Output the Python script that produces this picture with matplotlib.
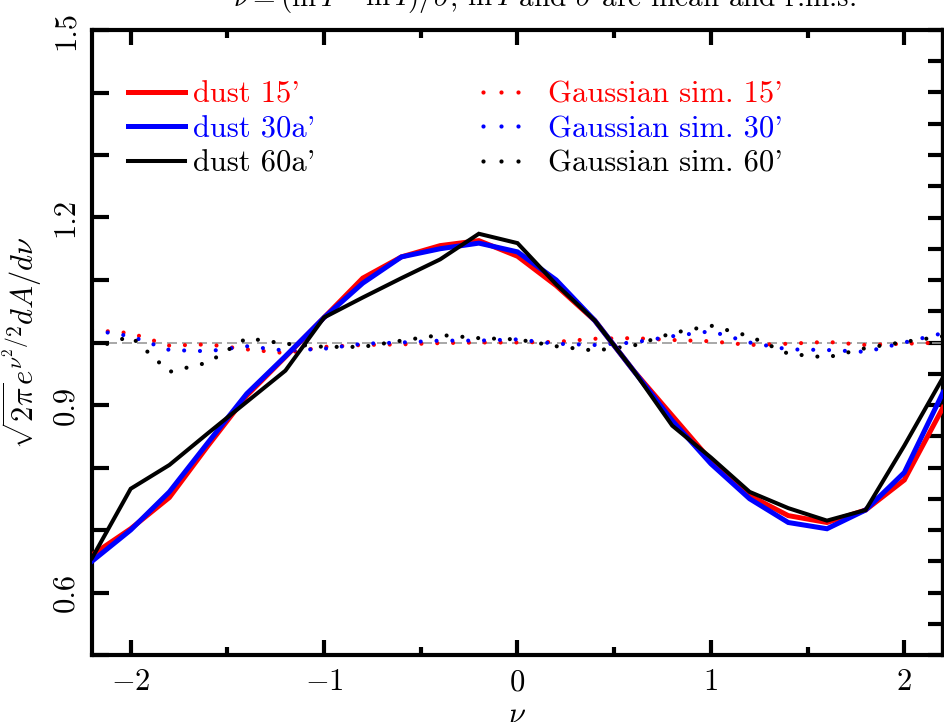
import matplotlib
matplotlib.use("Agg")
import matplotlib.pyplot as plt
from matplotlib.lines import Line2D
from matplotlib.ticker import MultipleLocator, FuncFormatter

plt.rcParams['font.family'] = 'cmr10'
plt.rcParams['mathtext.fontset'] = 'cm'
plt.rcParams['axes.formatter.use_mathtext'] = True
plt.rcParams['axes.unicode_minus'] = True

# nu bins
nu = [-2.2, -2.0, -1.8, -1.6, -1.4, -1.2, -1.0, -0.8, -0.6, -0.4, -0.2, 0.0,
      0.2, 0.4, 0.6, 0.8, 1.0, 1.2, 1.4, 1.6, 1.8, 2.0, 2.2]

# dust maps (smoothed 15', 30', 60')
dust15 = [0.66, 0.702, 0.752, 0.835, 0.915, 0.977, 1.04, 1.103, 1.137, 1.155, 1.163, 1.138,
          1.091, 1.035, 0.955, 0.883, 0.811, 0.755, 0.723, 0.712, 0.732, 0.78, 0.896]
dust30 = [0.65, 0.70, 0.761, 0.840, 0.918, 0.978, 1.04, 1.095, 1.137, 1.150, 1.159, 1.145,
          1.100, 1.035, 0.955, 0.875, 0.806, 0.750, 0.712, 0.702, 0.732, 0.792, 0.92]
dust60 = [0.655, 0.766, 0.804, 0.855, 0.905, 0.955, 1.04, 1.072, 1.103, 1.133, 1.174, 1.159,
          1.093, 1.035, 0.955, 0.867, 0.816, 0.761, 0.735, 0.715, 0.732, 0.835, 0.944]

# gaussian simulations
gsim15 = [1.02, 1.015, 0.995, 0.997, 0.989, 0.983, 0.993, 0.996, 0.997, 0.999, 1.0, 1.0,
          1.001, 1.006, 1.007, 1.004, 1.002, 0.996, 0.998, 1.001, 0.996, 0.998, 1.0]
gsim30 = [1.02, 1.01, 0.988, 0.986, 0.994, 0.987, 0.99, 0.998, 1.0, 1.003, 1.003, 1.005,
          0.998, 0.996, 1.0, 1.01, 1.018, 1.0, 0.989, 0.988, 0.985, 1.0, 1.015]
gsim60 = [0.99, 1.01, 0.953, 0.968, 1.007, 0.998, 0.993, 0.993, 1.003, 1.012, 1.007, 1.005,
          0.994, 0.987, 0.995, 1.015, 1.027, 1.01, 0.982, 0.976, 0.991, 1.001, 1.01]

dust_labels = ["dust 15'", "dust 30a'", "dust 60a'"]
sim_labels = ["Gaussian sim. 15'", "Gaussian sim. 30'", "Gaussian sim. 60'"]
colors = ['#ff0000', '#0000ff', '#000000']

FS = 22

fig = plt.figure(figsize=(9.45, 7.22), dpi=100)
ax = fig.add_axes([92 / 945, 67 / 722, 851 / 945, 625 / 722])

# reference line at 1
ax.axhline(1.0, color='#9a9a9a', lw=1.2, ls=(0, (6.0, 3.0)), zorder=1)

# dotted gaussian sims
dot_ls = (0, (0.001, 3.8))
for ys, c in zip([gsim15, gsim30, gsim60], colors):
    ax.plot(nu, ys, color=c, lw=3.0, ls=dot_ls, dash_capstyle='round', zorder=2)

# solid dust curves
for ys, c, lw in zip([dust15, dust30, dust60], colors, [3.6, 3.6, 2.9]):
    ax.plot(nu, ys, color=c, lw=lw, solid_joinstyle='miter', zorder=3)

ax.set_xlim(-2.2, 2.2)
ax.set_ylim(0.5, 1.5)

for s in ax.spines.values():
    s.set_linewidth(3)

ax.xaxis.set_major_locator(MultipleLocator(1))
ax.xaxis.set_minor_locator(MultipleLocator(0.5))
ax.yaxis.set_major_locator(MultipleLocator(0.1))
ax.yaxis.set_major_formatter(FuncFormatter(
    lambda v, p: f'{v:.1f}' if round(v * 10) % 3 == 0 and v > 0.55 else ''))

ax.tick_params(axis='x', which='both', direction='in', top=True, bottom=True,
               width=3, labelsize=FS, pad=10)
ax.tick_params(axis='x', which='major', length=11)
ax.tick_params(axis='x', which='minor', length=5.5)
ax.tick_params(axis='y', which='major', direction='in', left=True, right=False,
               length=12, width=3, labelsize=FS, labelrotation=90, pad=9)
for lab in ax.get_yticklabels():
    lab.set_va('center')

# right side ticks every 0.05
sec = ax.secondary_yaxis('right')
sec.yaxis.set_major_locator(MultipleLocator(0.05))
sec.tick_params(direction='in', length=11, width=3, labelright=False)
sec.spines['right'].set_linewidth(3)

ax.set_xlabel(r'$\nu$', fontsize=FS)
ax.xaxis.set_label_coords(0.5, -0.075)
ax.set_ylabel(r'$\sqrt{2\pi}e^{\nu^2/2}dA/d\nu$', fontsize=FS)
ax.yaxis.set_label_coords(-0.056, 0.5)

fig.text(544 / 945, 1 - 7 / 722,
         r"$\nu=(\ln I-\overline{\ln I})/\sigma$, $\overline{\ln I}$ and $\sigma$ are mean and r.m.s.",
         fontsize=21, ha='center', va='baseline')

# legends
h1 = [Line2D([], [], color=c, lw=lw) for c, lw in zip(colors, [3.6, 3.6, 2.9])]
leg1 = ax.legend(h1, dust_labels, loc='upper left', bbox_to_anchor=(0.0423, 0.918),
                 frameon=False, fontsize=FS, borderpad=0, borderaxespad=0,
                 handlelength=1.87, handletextpad=0.26, labelspacing=0.23,
                 labelcolor=colors)
ax.add_artist(leg1)

h2 = [Line2D([], [], color=c, ls='none', marker='o', markersize=3.0, markeredgewidth=0)
      for c in colors]
ax.legend(h2, sim_labels, loc='upper left', bbox_to_anchor=(0.449, 0.918),
          frameon=False, fontsize=FS, borderpad=0, borderaxespad=0, numpoints=3,
          handlelength=1.73, handletextpad=0.69, labelspacing=0.23,
          labelcolor=colors)

fig.savefig('out.png', dpi=100)
